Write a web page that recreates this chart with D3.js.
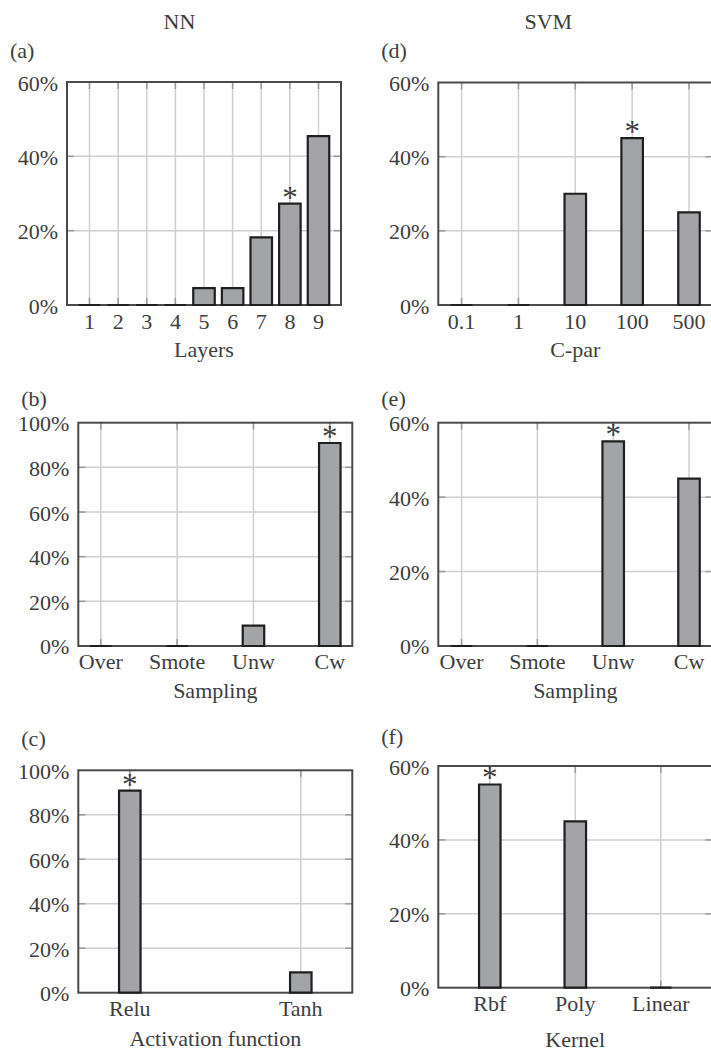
<!DOCTYPE html>
<html>
<head>
<meta charset="utf-8">
<script src="https://cdn.jsdelivr.net/npm/d3@7"></script>
<style>
  html, body { margin: 0; padding: 0; background: #fff; }
  svg { display: block; }
</style>
</head>
<body>
<div id="chart"></div>
<script>
// ---------------- data ----------------
const columnTitles = ["NN", "SVM"];

const layerCategories = ["1", "2", "3", "4", "5", "6", "7", "8", "9"];
const nnLayerValues = [0, 0, 0, 0, 4.55, 4.55, 18.2, 27.3, 45.45];
const nnLayerBest = "8";

const cParCategories = ["0.1", "1", "10", "100", "500"];
const svmCParValues = [0, 0, 30, 45, 25];
const svmCParBest = "100";

const samplingCategories = ["Over", "Smote", "Unw", "Cw"];
const nnSamplingValues = [0, 0, 9.1, 90.9];
const nnSamplingBest = "Cw";
const svmSamplingValues = [0, 0, 55, 45];
const svmSamplingBest = "Unw";

const activationCategories = ["Relu", "Tanh"];
const nnActivationValues = [90.9, 9.1];
const nnActivationBest = "Relu";

const kernelCategories = ["Rbf", "Poly", "Linear"];
const svmKernelValues = [55, 45, 0];
const svmKernelBest = "Rbf";

const yTicks60 = [0, 20, 40, 60];
const yTicks100 = [0, 20, 40, 60, 80, 100];

// ---------------- layout / style ----------------
const W = 711, H = 1052;
const panels = [
  { tag: "(a)", cats: layerCategories, vals: nnLayerValues, best: nnLayerBest, ticks: yTicks60, xlabel: "Layers",
    left: 67, top: 82, width: 274, height: 223, pad: 22.5, tagY: 58, xlabelDy: 52 },
  { tag: "(b)", cats: samplingCategories, vals: nnSamplingValues, best: nnSamplingBest, ticks: yTicks100, xlabel: "Sampling",
    left: 78.3, top: 422.7, width: 274, height: 223.3, pad: 22.5, tagY: 406, xlabelDy: 52 },
  { tag: "(c)", cats: activationCategories, vals: nnActivationValues, best: nnActivationBest, ticks: yTicks100, xlabel: "Activation function",
    left: 78.3, top: 770.3, width: 274, height: 222.4, pad: 51.5, tagY: 746, xlabelDy: 53 },
  { tag: "(d)", cats: cParCategories, vals: svmCParValues, best: svmCParBest, ticks: yTicks60, xlabel: "C-par",
    left: 438.3, top: 82.5, width: 274, height: 222.5, pad: 23.3, tagY: 58, xlabelDy: 52 },
  { tag: "(e)", cats: samplingCategories, vals: svmSamplingValues, best: svmSamplingBest, ticks: yTicks60, xlabel: "Sampling",
    left: 438.3, top: 422.7, width: 274, height: 223.3, pad: 23.3, tagY: 406, xlabelDy: 52 },
  { tag: "(f)", cats: kernelCategories, vals: svmKernelValues, best: svmKernelBest, ticks: yTicks60, xlabel: "Kernel",
    left: 438.3, top: 766, width: 274, height: 221.7, pad: 51.5, tagY: 744, xlabelDy: 59 }
];
const titlePos = [{ x: 179.5, y: 29.3 }, { x: 548.3, y: 29.3 }];

const FONTFAM = "Liberation Serif, Times New Roman, serif";
const FONT = 22;
const textColor = "#3d3d3d";
const gridColor = "#cfcfcf";
const tickColor = "#9a9a9a";
const frameColor = "#4a4a4a";
const barFill = "#a3a4a8";
const barStroke = "#1f1f1f";
const barWidth = 21.5;
const tickLen = 7;

const svg = d3.select("#chart").append("svg")
  .attr("width", W).attr("height", H).attr("viewBox", `0 0 ${W} ${H}`)
  .attr("font-family", FONTFAM);

function txt(sel) {
  return sel.attr("font-family", FONTFAM).attr("font-size", FONT).attr("fill", textColor);
}

// column titles
svg.selectAll("text.coltitle").data(columnTitles).join("text")
  .attr("class", "coltitle")
  .attr("x", (d, i) => titlePos[i].x)
  .attr("y", (d, i) => titlePos[i].y)
  .attr("text-anchor", "middle")
  .call(txt)
  .text(d => d);

panels.forEach(p => {
  const g = svg.append("g").attr("transform", `translate(${p.left},${p.top})`);
  const x = d3.scalePoint().domain(p.cats).range([p.pad, p.width - p.pad]);
  const yMax = d3.max(p.ticks);
  const y = d3.scaleLinear().domain([0, yMax]).range([p.height, 0]);
  const data = p.cats.map((c, i) => ({ cat: c, val: p.vals[i] }));
  const inner = p.ticks.filter(t => t > 0 && t < yMax);

  // grid
  const grid = g.append("g").attr("stroke", gridColor).attr("stroke-width", 1.5);
  grid.selectAll("line.vg").data(p.cats).join("line")
    .attr("class", "vg")
    .attr("x1", d => x(d)).attr("x2", d => x(d))
    .attr("y1", 0).attr("y2", p.height);
  grid.selectAll("line.hg").data(inner).join("line")
    .attr("class", "hg")
    .attr("x1", 0).attr("x2", p.width)
    .attr("y1", d => y(d)).attr("y2", d => y(d));

  // inner ticks (darker)
  const tk = g.append("g").attr("stroke", tickColor).attr("stroke-width", 1.5);
  p.cats.forEach(c => {
    tk.append("line").attr("x1", x(c)).attr("x2", x(c)).attr("y1", 0).attr("y2", tickLen);
    tk.append("line").attr("x1", x(c)).attr("x2", x(c)).attr("y1", p.height).attr("y2", p.height - tickLen);
  });
  inner.forEach(t => {
    tk.append("line").attr("x1", 0).attr("x2", tickLen).attr("y1", y(t)).attr("y2", y(t));
    tk.append("line").attr("x1", p.width).attr("x2", p.width - tickLen).attr("y1", y(t)).attr("y2", y(t));
  });

  // frame
  g.append("rect").attr("x", 0).attr("y", 0).attr("width", p.width).attr("height", p.height)
    .attr("fill", "none").attr("stroke", frameColor).attr("stroke-width", 2);

  // bars (paths so zero bars still show as a line)
  g.selectAll("path.bar").data(data).join("path")
    .attr("class", "bar")
    .attr("d", d => {
      const x0 = x(d.cat) - barWidth / 2, y0 = y(0), y1 = y(d.val);
      return `M${x0},${y0}V${y1}H${x0 + barWidth}V${y0}Z`;
    })
    .attr("fill", barFill).attr("stroke", barStroke).attr("stroke-width", 2.2)
    .attr("stroke-linejoin", "miter");

  // best marker
  const b = data.find(d => d.cat === p.best);
  g.append("text")
    .attr("x", x(b.cat)).attr("y", y(b.val) + 4)
    .attr("text-anchor", "middle")
    .call(txt)
    .attr("font-size", 31)
    .text("*");

  // y tick labels
  g.selectAll("text.yt").data(p.ticks).join("text")
    .attr("class", "yt")
    .attr("x", -9).attr("y", d => y(d) + 8.5)
    .attr("text-anchor", "end")
    .call(txt)
    .text(d => d + "%");

  // x tick labels
  g.selectAll("text.xt").data(p.cats).join("text")
    .attr("class", "xt")
    .attr("x", d => x(d)).attr("y", p.height + 23.5)
    .attr("text-anchor", "middle")
    .call(txt)
    .text(d => d);

  // x label
  g.append("text")
    .attr("x", p.width / 2).attr("y", p.height + p.xlabelDy)
    .attr("text-anchor", "middle")
    .call(txt)
    .text(p.xlabel);

  // panel tag
  svg.append("text")
    .attr("x", p.left - 57).attr("y", p.tagY)
    .call(txt)
    .text(p.tag);
});
</script>
</body>
</html>
